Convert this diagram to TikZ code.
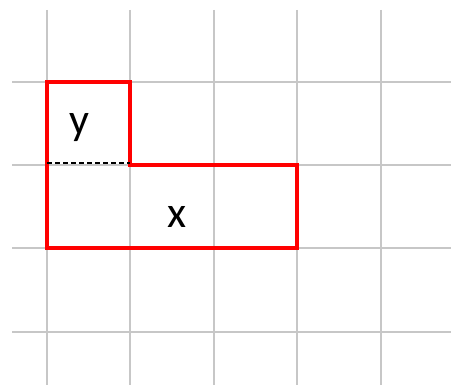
\documentclass[tikz,border=0pt]{standalone}
\usepackage{fontspec}
\setmainfont{Carlito}
\begin{document}
\begin{tikzpicture}[x=1pt,y=-1pt,
  gridline/.style={draw=black!22,line width=2.6pt},
  redoutline/.style={draw=red,line width=3.2pt,line join=miter},
  lbl/.style={font=\fontsize{44}{48}\selectfont,inner sep=0pt}]
\useasboundingbox (0,0) rectangle (451,385);
\foreach \x in {47,130,214,297,381} \draw[gridline] (\x,10) -- (\x,385);
\foreach \y in {82,165,248,332} \draw[gridline] (12,\y) -- (451,\y);
\coordinate (a) at (47,82);
\coordinate (b) at (130,82);
\coordinate (c) at (130,165);
\coordinate (d) at (297,165);
\coordinate (e) at (297,248);
\coordinate (f) at (47,248);
\coordinate (g) at (47,163);
\coordinate (h) at (130,163);
\draw[redoutline] (a) -- (b) -- (c) -- (d) -- (e) -- (f) -- cycle;
\draw[black,line width=1.8pt,dash pattern=on 5pt off 3pt] (g) -- (h);
\node[lbl,anchor=base] (ly) at (79,135) {y};
\node[lbl,anchor=base] (lx) at (177,228) {x};
\end{tikzpicture}
\end{document}
